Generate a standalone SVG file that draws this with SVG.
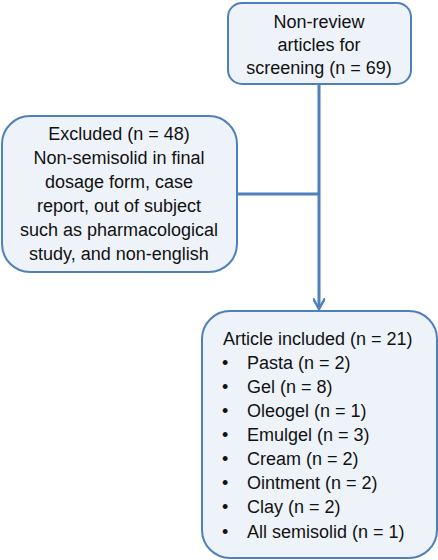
<svg xmlns="http://www.w3.org/2000/svg" width="438" height="560" viewBox="0 0 438 560">
<defs>
<style>
.box{fill:#EEF3F9;stroke:#4F7FBD;stroke-width:2}
.t{font-family:"Liberation Sans",Arial,sans-serif;font-size:18px;fill:#111}
.c{text-anchor:middle}
.ln{fill:none;stroke:#4F7FBD;stroke-width:3}
</style>
<marker id="ah" viewBox="0 0 10 10" refX="9" refY="5" markerWidth="4" markerHeight="4" orient="auto" markerUnits="strokeWidth">
<path d="M0,0 L9,5 L0,10" fill="none" stroke="#4F7FBD" stroke-width="2"/>
</marker>
</defs>
<g id="connectors">
<line class="ln" x1="319" y1="84" x2="319" y2="309" marker-end="url(#ah)"/>
<line class="ln" x1="237" y1="194" x2="319" y2="194"/>
</g>
<g id="top">
<rect class="box" x="228" y="3" width="183" height="81" rx="14"/>
<text class="t c" x="319" y="28">Non-review</text>
<text class="t c" x="319" y="51">articles for</text>
<text class="t c" x="319" y="74">screening (n = 69)</text>
</g>
<g id="excluded">
<rect class="box" x="2" y="116" width="235" height="156" rx="28"/>
<text class="t c" x="119" y="140">Excluded (n = 48)</text>
<text class="t c" x="119" y="164">Non-semisolid in final</text>
<text class="t c" x="119" y="188">dosage form, case</text>
<text class="t c" x="119" y="212">report, out of subject</text>
<text class="t c" x="119" y="236">such as pharmacological</text>
<text class="t c" x="119" y="260">study, and non-english</text>
</g>
<g id="included">
<rect class="box" x="202" y="311" width="235" height="247" rx="28"/>
<text class="t" x="223" y="345">Article included (n = 21)</text>
<text class="t"><tspan x="222" y="369">•</tspan><tspan x="247">Pasta (n = 2)</tspan></text>
<text class="t"><tspan x="222" y="393">•</tspan><tspan x="247">Gel (n = 8)</tspan></text>
<text class="t"><tspan x="222" y="417">•</tspan><tspan x="247">Oleogel (n = 1)</tspan></text>
<text class="t"><tspan x="222" y="441">•</tspan><tspan x="247">Emulgel (n = 3)</tspan></text>
<text class="t"><tspan x="222" y="465">•</tspan><tspan x="247">Cream (n = 2)</tspan></text>
<text class="t"><tspan x="222" y="489">•</tspan><tspan x="247">Ointment (n = 2)</tspan></text>
<text class="t"><tspan x="222" y="513">•</tspan><tspan x="247">Clay (n = 2)</tspan></text>
<text class="t"><tspan x="222" y="538">•</tspan><tspan x="247">All semisolid (n = 1)</tspan></text>
</g>
</svg>
